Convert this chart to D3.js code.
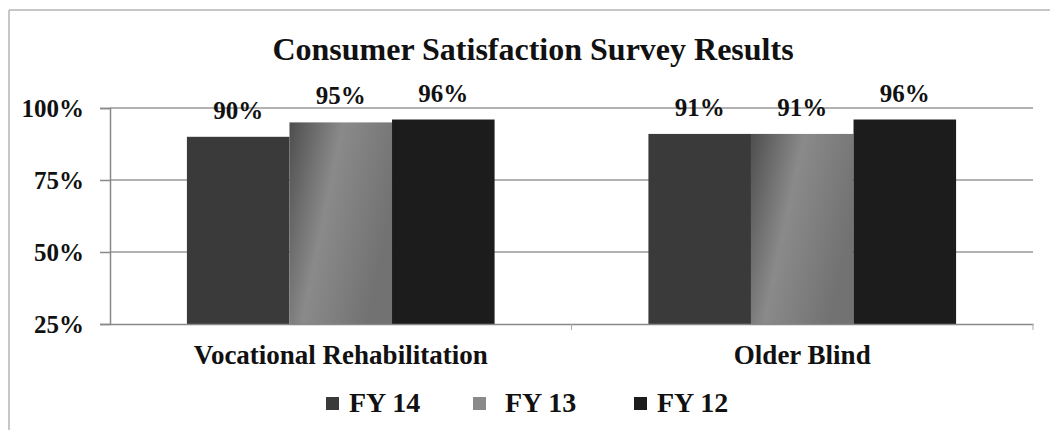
<!doctype html>
<html>
<head>
<style>
  body { margin: 0; background: #fff; }
  text { font-family: "Liberation Serif", "Times New Roman", serif; font-weight: bold; fill: #111; }
</style>
<script src="https://d3js.org/d3.v7.min.js"></script>
</head>
<body>
<svg width="1050" height="430"></svg>
<script>
  var categories = ["Vocational Rehabilitation", "Older Blind"];
  var seriesNames = ["FY 14", "FY 13", "FY 12"];
  var fy14 = [90, 91];
  var fy13 = [95, 91];
  var fy12 = [96, 96];
  var yTicks = [25, 50, 75, 100];

  var seriesValues = [fy14, fy13, fy12];
  var colors = ["#3a3a3a", "url(#fy13grad)", "#1c1c1c"];
  var legendColors = ["#3a3a3a", "#8a8a8a", "#1c1c1c"];

  var svg = d3.select("svg");

  // gradient for the lighter middle series
  var grad = svg.append("defs").append("linearGradient")
    .attr("id", "fy13grad").attr("x1", "0").attr("x2", "1").attr("y1", "0").attr("y2", "0.4");
  grad.append("stop").attr("offset", "0%").attr("stop-color", "#4e4e4e");
  grad.append("stop").attr("offset", "45%").attr("stop-color", "#8a8a8a");
  grad.append("stop").attr("offset", "100%").attr("stop-color", "#727272");

  // outer frame
  svg.append("line").attr("x1", 9).attr("x2", 1050).attr("y1", 10).attr("y2", 10)
    .attr("stroke", "#b5b5b5").attr("stroke-width", 1.5);
  svg.append("line").attr("x1", 9).attr("x2", 9).attr("y1", 10).attr("y2", 430)
    .attr("stroke", "#b5b5b5").attr("stroke-width", 1.5);

  svg.append("text")
    .attr("x", 533).attr("y", 60)
    .attr("text-anchor", "middle")
    .attr("font-size", "32px")
    .text("Consumer Satisfaction Survey Results");

  var plotLeft = 110, plotRight = 1033, plotTop = 108, plotBottom = 324;

  var x0 = d3.scaleBand().domain(categories).range([plotLeft, plotRight]);
  var x1 = d3.scaleBand().domain(seriesNames).range([0, x0.bandwidth()]).paddingInner(0).paddingOuter(0.75);
  var y = d3.scaleLinear().domain([25, 100]).range([plotBottom, plotTop]);

  // gridlines
  svg.append("g").selectAll("line").data(yTicks.filter(function (d) { return d > 25; }))
    .enter().append("line")
    .attr("x1", plotLeft).attr("x2", plotRight)
    .attr("y1", function (d) { return y(d); }).attr("y2", function (d) { return y(d); })
    .attr("stroke", "#999").attr("stroke-width", 1.5);

  // y axis
  var yAxis = svg.append("g")
    .attr("transform", "translate(" + plotLeft + ",0)")
    .call(d3.axisLeft(y).tickValues(yTicks).tickSize(10).tickPadding(16)
      .tickFormat(function (d) { return d + "%"; }));
  yAxis.select(".domain").attr("stroke", "#888").attr("stroke-width", 1.5);
  yAxis.selectAll(".tick line").attr("stroke", "#888").attr("stroke-width", 1.5);
  yAxis.selectAll("text").attr("font-size", "25px").attr("font-family", "Liberation Serif").attr("fill", "#111");

  // bars
  var groups = svg.append("g").selectAll("g").data(categories).enter().append("g")
    .attr("transform", function (d) { return "translate(" + x0(d) + ",0)"; });

  groups.each(function (cat, ci) {
    var g = d3.select(this);
    seriesNames.forEach(function (s, si) {
      var v = seriesValues[si][ci];
      g.append("rect")
        .attr("x", x1(s)).attr("width", x1.bandwidth())
        .attr("y", y(v)).attr("height", plotBottom - y(v))
        .attr("fill", colors[si]);
      g.append("text")
        .attr("x", x1(s) + x1.bandwidth() / 2)
        .attr("y", y(v) - 18)
        .attr("text-anchor", "middle")
        .attr("font-size", "25px")
        .text(v + "%");
    });
  });

  // x axis
  var xAxis = svg.append("g")
    .attr("transform", "translate(0," + plotBottom + ")")
    .call(d3.axisBottom(x0).tickSize(0).tickPadding(21));
  xAxis.select(".domain").attr("stroke", "#888").attr("stroke-width", 1.5);
  xAxis.selectAll("text").attr("font-size", "27px").attr("font-family", "Liberation Serif").attr("fill", "#111");
  svg.append("g").selectAll("line").data([x0(categories[1]), plotRight])
    .enter().append("line")
    .attr("x1", function (d) { return d; }).attr("x2", function (d) { return d; })
    .attr("y1", plotBottom).attr("y2", plotBottom + 6)
    .attr("stroke", "#aaa").attr("stroke-width", 1);

  // legend
  var legendX = [326, 473, 634];
  var textOffset = [23, 32, 23];
  var legend = svg.append("g").selectAll("g").data(seriesNames).enter().append("g")
    .attr("transform", function (d, i) { return "translate(" + legendX[i] + ",412)"; });
  legend.append("rect").attr("x", 0).attr("y", -15).attr("width", 13).attr("height", 13)
    .attr("fill", function (d, i) { return legendColors[i]; });
  legend.append("text").attr("x", function (d, i) { return textOffset[i]; }).attr("y", 0)
    .attr("font-size", "28px")
    .text(function (d) { return d; });
</script>
</body>
</html>
